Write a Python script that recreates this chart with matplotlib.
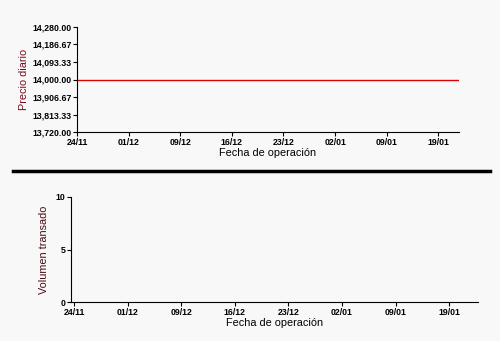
import matplotlib.pyplot as plt
from matplotlib.ticker import FuncFormatter
from matplotlib.lines import Line2D

# indice de dias de operacion y etiquetas de fecha (cada 5 dias)
dias = [0, 37]
precio = [14000.0, 14000.0]
dias_vol = [0, 5, 10, 15, 20, 25, 30, 35]
volumen = [0, 0, 0, 0, 0, 0, 0, 0]
pos_fechas = [0, 5, 10, 15, 20, 25, 30, 35]
fechas = ['24/11', '01/12', '09/12', '16/12', '23/12', '02/01', '09/01', '19/01']
precio_ticks = [13720.00, 13813.33, 13906.67, 14000.00, 14093.33, 14186.67, 14280.00]
volumen_ticks = [0, 5, 10]

plt.rcParams['font.family'] = ['Liberation Sans', 'DejaVu Sans']
fondo = '#f8f8f8'

fig = plt.figure(figsize=(5, 3.41), dpi=100, facecolor=fondo)

# grafico de precio
ax1 = fig.add_axes([77/500, 1-132/341, (459-77)/500, (132-27)/341], facecolor=fondo)
ax1.plot(dias, precio, color='#dd0000', lw=1)
ax1.set_xlim(0, 37)
ax1.set_ylim(precio_ticks[0], precio_ticks[-1])
ax1.set_yticks(precio_ticks)
ax1.yaxis.set_major_formatter(FuncFormatter(lambda v, p: f'{v:,.2f}'))
ax1.set_xticks(pos_fechas)
ax1.set_xticklabels(fechas)
ax1.set_ylabel('Precio diario', color='#7a0a1e', fontsize=7.8, labelpad=2)
ax1.set_xlabel('Fecha de operación', fontsize=7.8, labelpad=1)

# grafico de volumen
ax2 = fig.add_axes([71/500, 1-302/341, (478-71)/500, (302-197)/341], facecolor=fondo)
ax2.bar(dias_vol, volumen, width=1, color='#dd0000')
ax2.set_xlim(-0.3, 37.7)
ax2.set_ylim(0, 10)
ax2.set_yticks(volumen_ticks)
ax2.set_xticks(pos_fechas)
ax2.set_xticklabels(fechas)
ax2.set_ylabel('Volumen transado', color='#4a0a14', fontsize=7.8, labelpad=5)
ax2.set_xlabel('Fecha de operación', fontsize=7.8, labelpad=1)

for ax in (ax1, ax2):
    ax.spines['top'].set_visible(False)
    ax.spines['right'].set_visible(False)
    ax.tick_params(labelsize=6.3, length=3, width=0.8, pad=1)
    for lab in ax.get_xticklabels() + ax.get_yticklabels():
        lab.set_fontweight('bold')

# linea separadora
fig.add_artist(Line2D([13/500, 490/500], [1-171/341, 1-171/341], color='black', lw=2.5))

fig.savefig('out.png', dpi=100, facecolor=fondo)
